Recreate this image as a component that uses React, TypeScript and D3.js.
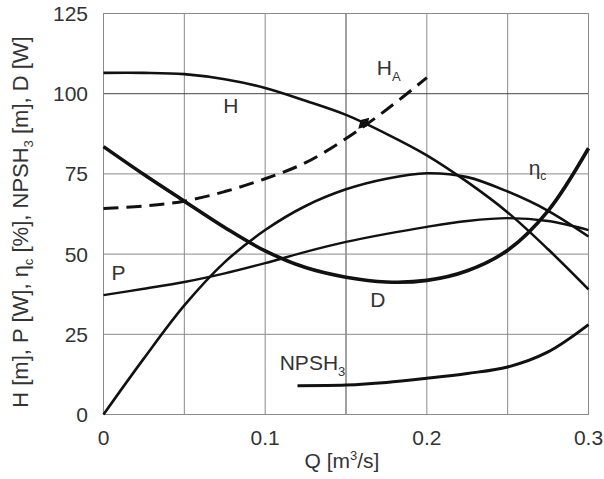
import React from "react";
import * as d3 from "d3";

// flow rate samples [m3/s]
const qMain = [0, 0.025, 0.05, 0.075, 0.1, 0.125, 0.15, 0.175, 0.2, 0.225, 0.25, 0.275, 0.3];
const headH = [106.5, 106.5, 106.1, 104.5, 101.8, 97.8, 93.4, 87.5, 80.8, 72.5, 63, 51.5, 39];
const effEta = [0, 17.5, 34, 47.5, 57.5, 65, 70.2, 73.5, 75.2, 74, 69.5, 63.5, 55.5];
const powerP = [37.2, 39.2, 41.3, 44, 47.2, 50.7, 53.8, 56.3, 58.5, 60.3, 61.2, 60.3, 57.5];
const curveD = [83.5, 74.8, 66.5, 58.3, 51, 45.8, 42.8, 41.3, 41.8, 44.8, 51.2, 63.5, 83];

const qSystem = [0, 0.025, 0.05, 0.075, 0.1, 0.125, 0.15, 0.175, 0.2];
const headHA = [64.2, 65, 66.5, 69.5, 73.5, 78.5, 86, 95, 105];

const qNpsh = [0.12, 0.15, 0.175, 0.2, 0.225, 0.25, 0.275, 0.3];
const npsh3 = [9, 9.2, 10, 11.3, 12.8, 14.8, 19.5, 28];

const opPoint = { q: 0.161, v: 90.8 };

const xTicks = [0, 0.1, 0.2, 0.3];
const xGrid = [0.05, 0.1, 0.15, 0.2, 0.25];
const yTicks = [0, 25, 50, 75, 100, 125];
const yGrid = [25, 50, 75, 100];

const W = 604;
const H = 479;
const M = { left: 103.5, right: 15.5, top: 13.5, bottom: 64.5 };

export default function App() {
  const x = d3.scaleLinear().domain([0, 0.3]).range([M.left, W - M.right]);
  const y = d3.scaleLinear().domain([0, 125]).range([H - M.bottom, M.top]);

  const line = (qs: number[], vs: number[]) =>
    d3
      .line<number>()
      .x((_, i) => x(qs[i]))
      .y((v) => y(v))
      .curve(d3.curveCatmullRom.alpha(0.5))(vs) || "";

  const font = "'Liberation Sans', Arial, sans-serif";
  const txt = "#333";
  const fs = 21;

  return (
    <svg
      width={W}
      height={H}
      style={{ position: "absolute", left: 0, top: 0, background: "#fff" }}
      fontFamily={font}
    >
      {/* grid */}
      {xGrid.map((g) => (
        <line
          key={"xg" + g}
          x1={x(g)}
          x2={x(g)}
          y1={y(0)}
          y2={y(125)}
          stroke={g === 0.15 ? "#444" : "#8a8a8a"}
          strokeWidth={1}
        />
      ))}
      {yGrid.map((g) => (
        <line
          key={"yg" + g}
          x1={x(0)}
          x2={x(0.3)}
          y1={y(g)}
          y2={y(g)}
          stroke={g === 100 ? "#444" : "#8a8a8a"}
          strokeWidth={1}
        />
      ))}
      <rect
        x={x(0)}
        y={y(125)}
        width={x(0.3) - x(0)}
        height={y(0) - y(125)}
        fill="none"
        stroke="#8a8a8a"
        strokeWidth={1}
      />

      {/* curves */}
      <path d={line(qMain, headH)} fill="none" stroke="#111" strokeWidth={2.6} />
      <path d={line(qMain, effEta)} fill="none" stroke="#111" strokeWidth={2.6} />
      <path d={line(qMain, powerP)} fill="none" stroke="#111" strokeWidth={2.4} />
      <path d={line(qMain, curveD)} fill="none" stroke="#111" strokeWidth={3.6} />
      <path d={line(qNpsh, npsh3)} fill="none" stroke="#111" strokeWidth={3} />
      <path
        d={line(qSystem, headHA)}
        fill="none"
        stroke="#111"
        strokeWidth={3}
        strokeDasharray="15 8"
      />
      <path
        d={d3.symbol(d3.symbolDiamond, 70)() || ""}
        transform={`translate(${x(opPoint.q)},${y(opPoint.v)}) rotate(45)`}
        fill="#111"
      />

      {/* curve labels */}
      <g fill={txt} fontSize={fs}>
        <text x={x(0.074)} y={y(94)}>H</text>
        <text x={x(0.169)} y={y(105.8)}>
          H<tspan fontSize={13} dy={6}>A</tspan>
        </text>
        <text x={x(0.263)} y={y(74.6)}>
          η<tspan fontSize={12} dy={5}>c</tspan>
        </text>
        <text x={x(0.005)} y={y(42)}>P</text>
        <text x={x(0.165)} y={y(33.5)}>D</text>
        <text x={x(0.109)} y={y(13.9)}>
          NPSH<tspan fontSize={13} dy={6}>3</tspan>
        </text>
      </g>

      {/* axes labels */}
      <g fill={txt} fontSize={fs}>
        {yTicks.map((t) => (
          <text key={"yt" + t} x={88} y={y(t)} dy="0.36em" textAnchor="end">
            {t}
          </text>
        ))}
        {xTicks.map((t) => (
          <text key={"xt" + t} x={x(t)} y={y(0) + 30} textAnchor="middle">
            {t}
          </text>
        ))}
        <text x={(x(0) + x(0.3)) / 2 - 4} y={468} textAnchor="middle">
          Q [m<tspan fontSize={13} dy={-8}>3</tspan>
          <tspan dy={8}>/s]</tspan>
        </text>
        <text
          fontSize={22}
          transform={`translate(28,${(y(0) + y(125)) / 2 + 8}) rotate(-90)`}
          textAnchor="middle"
        >
          H [m], P [W], η<tspan fontSize={13} dy={5}>c</tspan>
          <tspan dy={-5}> [%], NPSH</tspan>
          <tspan fontSize={13} dy={5}>3</tspan>
          <tspan dy={-5}> [m], D [W]</tspan>
        </text>
      </g>
    </svg>
  );
}
